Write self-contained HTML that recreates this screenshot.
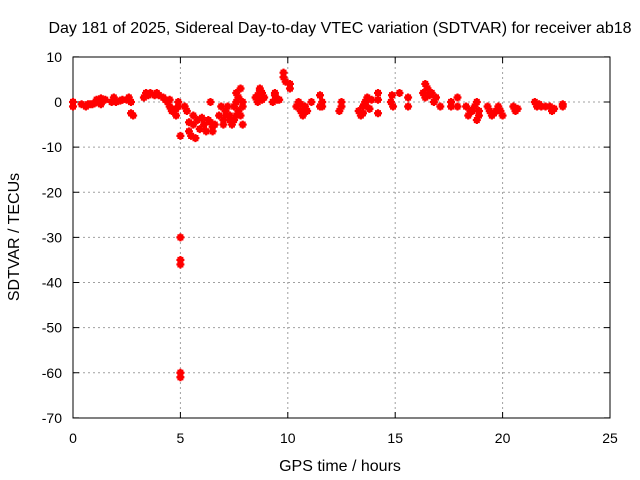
<!DOCTYPE html>
<html><head><meta charset="utf-8"><style>
body{margin:0;background:#fff;font-family:"Liberation Sans",sans-serif;}
svg{display:block}
text{font-family:"Liberation Sans",sans-serif;font-size:14px;fill:#000}
.big{font-size:16px}
</style></head><body>
<svg id="chart" width="640" height="480">
<text class="big" x="340" y="33" text-anchor="middle">Day 181 of 2025, Sidereal Day-to-day VTEC variation (SDTVAR) for receiver ab18</text>
<g id="grid"></g>
<g id="axes"></g>
<g id="pts"></g>
<text class="big" x="340" y="471" text-anchor="middle">GPS time / hours</text>
<text class="big" transform="translate(19,237) rotate(-90)" text-anchor="middle">SDTVAR / TECUs</text>
</svg>
<script>
const xTicks=[0,5,10,15,20,25];
const yTicks=[10,0,-10,-20,-30,-40,-50,-60,-70];
const hours=[0,0,0.4,0.6,0.8,1,1.2,1.3,1.3,1.5,1.8,1.9,2.0,2.2,2.5,2.6,2.7,2.7,2.8,3.3,3.4,3.5,3.8,3.9,4.0,4.3,4.4,4.5,4.6,4.7,4.8,4.9,4.9,5,5,5,5,5,5,5.2,5.3,5.4,5.4,5.5,5.6,5.6,5.7,5.8,5.9,6.0,6.1,6.2,6.3,6.4,6.4,6.5,6.5,6.6,6.8,6.9,7.0,7.0,7.1,7.2,7.3,7.4,7.5,7.5,7.6,7.6,7.7,7.7,7.8,7.8,7.9,7.9,8.6,8.6,8.7,8.7,8.8,8.8,9.3,9.4,9.4,9.5,9.8,9.8,9.9,10.1,10.1,10.4,10.5,10.6,10.7,10.8,10.8,11.1,11.5,11.5,11.6,11.6,12.4,12.5,12.5,13.3,13.4,13.5,13.6,13.7,13.8,13.9,14.2,14.2,14.2,14.8,14.85,14.9,15.2,15.6,15.6,16.3,16.4,16.4,16.5,16.7,16.8,16.9,17.1,17.6,17.6,17.9,17.9,18.3,18.4,18.5,18.7,18.8,18.8,18.9,19.3,19.4,19.5,19.8,19.9,20.0,20.5,20.6,20.7,21.5,21.6,21.7,22.2,22.3,22.4,22.8,22.8,
0.7,0.9,1.1,2.3,3.6,4.2,4.5,4.6,4.8,7.1,7.3,7.6,7.7,7.9,8.5,8.9,9.6,10.6,10.9,13.5,13.6,13.8,16.5,16.6,18.6,18.9,19.6,19.7,20.6,21.8,22.0];
const sdtvar=[0,-1,-0.5,-1,-0.5,-0.3,0,0.8,-0.5,0.5,0,1,0,0.3,0.5,1,0,-2.5,-3,1,2,1.5,1.5,2,1.5,0.5,0,-1,-1.5,-2,-3,-1,0,-7.5,-30,-35,-36,-60,-61,-1,-2,-4.5,-6.5,-7.5,-3,-5,-8,-4,-6,-3.5,-5,-6.5,-4,0,-4.5,-5.5,-6.5,-5,-3,-1,-5,-4,-2,-1,-3,-5,-4,-1,0,2,-2,1,-3,3,0,-5,0,1.5,2.5,3,0.5,2,0,1.5,2,0.5,5.5,6.5,4.5,3,4,-1,0,-2,-3,-1,-2,0,-1,1.5,-1,0,-2,-1,0,-2,-3,-1,0,1,-1.5,0.5,2,-2.5,0.5,0,1.5,-1,2,1,-1,2,4,1,3,2,0,1,-1,-1,0,1,-1,-1,-3,-2,-1,-4,0,-3,-1,-2,-3,-1,-2,-3,-1,-2,-1.5,0,-1,-0.5,-1,-2,-1.5,-1,-0.5,
-0.5,-0.5,0.5,0.5,2,1,0.5,-2,-1.5,-3,-4,-3,1,-1,1,1,0.5,-0.5,-2,-2.5,-0.5,-1.5,3,1.5,-2,-2,-2.5,-2,-1.5,-1,-1];
const X=h=>73+h*(537/25);
const Y=v=>102-v*(361/80);
const ns="http://www.w3.org/2000/svg";
const grid=document.getElementById('grid'),axes=document.getElementById('axes'),pts=document.getElementById('pts');
function mk(tag,attrs,parent){const e=document.createElementNS(ns,tag);for(const k in attrs)e.setAttribute(k,attrs[k]);parent.appendChild(e);return e;}
xTicks.forEach(t=>{
  const x=X(t);
  if(t>0&&t<25){const g=mk('line',{x1:x,x2:x,y1:57,y2:418,stroke:'#a0a0a0','stroke-dasharray':'2,3'},grid);
  
  }
  mk('line',{x1:x,x2:x,y1:418,y2:412,stroke:'#000'},axes);
  mk('line',{x1:x,x2:x,y1:57,y2:63,stroke:'#000'},axes);
  const tx=mk('text',{x:x,y:443,'text-anchor':'middle'},axes);tx.textContent=t;
  
  
});
yTicks.forEach(t=>{
  const y=Y(t);
  if(t<10&&t>-70){const g=mk('line',{x1:73,x2:610,y1:y,y2:y,stroke:'#a0a0a0','stroke-dasharray':'2,3'},grid);
  
  }
  mk('line',{x1:73,x2:79,y1:y,y2:y,stroke:'#000'},axes);
  mk('line',{x1:604,x2:610,y1:y,y2:y,stroke:'#000'},axes);
  const tx=mk('text',{x:62,y:y+5,'text-anchor':'end'},axes);tx.textContent=t;
  
  
});
mk('rect',{x:73,y:57,width:537,height:361,fill:'none',stroke:'#000'},axes);
hours.forEach((h,i)=>{
  const x=X(h),y=Y(sdtvar[i]);
  const p=mk('path',{d:`M${x-4},${y}h8M${x},${y-4}v8M${x-3},${y+2}h6M${x-3},${y-2}h6`,stroke:'#f00','stroke-width':2.2,fill:'none'},pts);
  
  
});
</script>
</body></html>
